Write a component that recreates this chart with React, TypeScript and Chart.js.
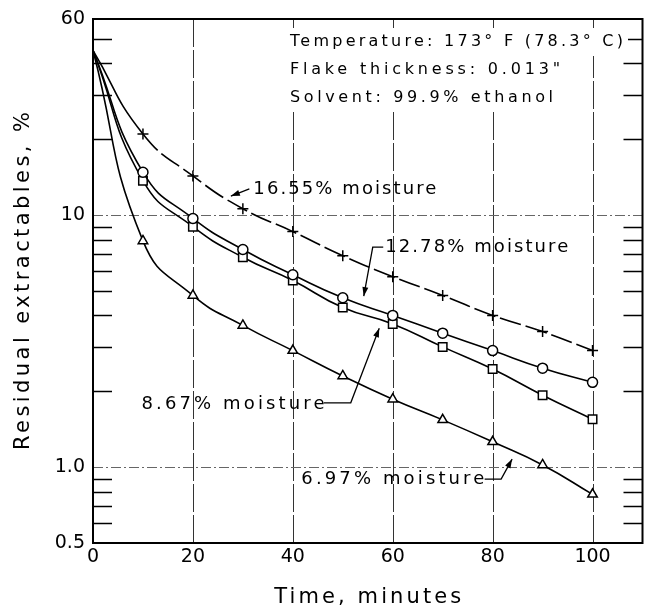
import React, { useEffect, useRef } from 'react';
import { Chart, registerables } from 'chart.js';

Chart.register(...registerables);

// ---- data ----
const times = [0, 10, 20, 30, 40, 50, 60, 70, 80, 90, 100];
const moisture1655 = [45, 21, 14.3, 10.6, 8.6, 6.9, 5.7, 4.8, 4.0, 3.45, 2.9];
const moisture1278 = [45, 14.8, 9.7, 7.3, 5.8, 4.7, 4.0, 3.4, 2.9, 2.47, 2.17];
const moisture867 = [45, 13.7, 9.0, 6.8, 5.5, 4.3, 3.7, 3.0, 2.45, 1.93, 1.55];
const moisture697 = [45, 7.9, 4.8, 3.65, 2.9, 2.3, 1.86, 1.54, 1.26, 1.02, 0.78];

const xTicks = [0, 20, 40, 60, 80, 100];
const yTicks = [0.5, 1, 10, 60];
const yTickLabels = ['0.5', '1.0', '10', '60'];
const yMinorTicks = [0.6, 0.7, 0.8, 0.9, 2, 3, 4, 5, 6, 7, 8, 9, 20, 30, 40, 50];
const xGridValues = [20, 40, 60, 80, 100];
const yGridValues = [1, 10];

const xTitle = 'Time, minutes';
const yTitle = 'Residual extractables, %';
const conditionLines = [
  'Temperature: 173° F (78.3° C)',
  'Flake thickness: 0.013"',
  'Solvent: 99.9% ethanol',
];

// moisture labels: text anchor (left, middle) and leader path in data coords
const labelTexts = ['16.55% moisture', '12.78% moisture', '8.67% moisture', '6.97% moisture'];
const labelAnchors = [[32.1, 12.7], [58.5, 7.46], [9.7, 1.78], [41.7, 0.896]];
const labelPaths = [
  [[31.3, 12.7], [27.6, 11.9]],
  [[58.1, 7.46], [56.0, 7.46], [54.2, 4.77]],
  [[46.2, 1.8], [51.6, 1.8], [57.3, 3.56]],
  [[78.4, 0.896], [81.7, 0.896], [83.9, 1.076]],
];

const FONT = '"DejaVu Sans", "Liberation Sans", sans-serif';

function drawSpaced(ctx: CanvasRenderingContext2D, text: string, x: number, y: number, width: number, size: number, align: 'left' | 'center') {
  let fs = size;
  ctx.font = `${fs}px ${FONT}`;
  (ctx as any).letterSpacing = '0px';
  let w0 = ctx.measureText(text).width;
  if (w0 > width) {
    fs = size * width / w0;
    ctx.font = `${fs}px ${FONT}`;
    w0 = ctx.measureText(text).width;
  }
  const s = Math.max(0, (width - w0) / Math.max(1, text.length - 1));
  (ctx as any).letterSpacing = `${s}px`;
  ctx.textAlign = 'left';
  ctx.textBaseline = 'middle';
  const sx = align === 'center' ? x - width / 2 : x;
  ctx.fillText(text, sx, y);
  (ctx as any).letterSpacing = '0px';
}

function arrowHead(ctx: CanvasRenderingContext2D, x0: number, y0: number, x1: number, y1: number) {
  const a = Math.atan2(y1 - y0, x1 - x0);
  const L = 9, W = 3;
  ctx.beginPath();
  ctx.moveTo(x1, y1);
  ctx.lineTo(x1 - L * Math.cos(a) + W * Math.sin(a), y1 - L * Math.sin(a) - W * Math.cos(a));
  ctx.lineTo(x1 - L * Math.cos(a) - W * Math.sin(a), y1 - L * Math.sin(a) + W * Math.cos(a));
  ctx.closePath();
  ctx.fill();
}

const decorPlugin = {
  id: 'decor',
  beforeDatasetsDraw(chart: any) {
    const { ctx, chartArea: a, scales } = chart;
    const xs = scales.x, ys = scales.y;
    ctx.save();
    ctx.strokeStyle = '#333';
    ctx.lineWidth = 1;
    ctx.setLineDash([28, 3]);
    xGridValues.forEach((v) => {
      const px = Math.round(xs.getPixelForValue(v)) + 0.5;
      ctx.beginPath();
      ctx.moveTo(px, a.top);
      ctx.lineTo(px, a.bottom);
      ctx.stroke();
    });
    ctx.strokeStyle = '#666';
    ctx.setLineDash([10, 3, 2, 3]);
    yGridValues.forEach((v) => {
      const py = Math.round(ys.getPixelForValue(v)) + 0.5;
      ctx.beginPath();
      ctx.moveTo(a.left, py);
      ctx.lineTo(a.right, py);
      ctx.stroke();
    });
    ctx.setLineDash([]);
    ctx.strokeStyle = '#000';
    ctx.lineWidth = 1.4;
    yMinorTicks.forEach((v) => {
      const py = Math.round(ys.getPixelForValue(v)) + 0.5;
      ctx.beginPath();
      ctx.moveTo(a.left, py);
      ctx.lineTo(a.left + 19, py);
      ctx.moveTo(a.right - 19, py);
      ctx.lineTo(a.right, py);
      ctx.stroke();
    });
    const cx = a.left + 197;
    const widths = [333, 270, 263];
    const rows = [a.top + 23, a.top + 51, a.top + 79];
    ctx.fillStyle = '#fff';
    conditionLines.forEach((t, i) => {
      ctx.fillRect(cx - 5, rows[i] - 14, widths[i] + 10, 28);
    });
    ctx.fillStyle = '#000';
    conditionLines.forEach((t, i) => {
      drawSpaced(ctx, t, cx, rows[i], widths[i], 16, 'left');
    });
    ctx.restore();
  },
  afterDatasetsDraw(chart: any) {
    const { ctx, chartArea: a, scales } = chart;
    const xs = scales.x, ys = scales.y;
    ctx.save();
    ctx.strokeStyle = '#000';
    ctx.lineWidth = 2;
    ctx.strokeRect(a.left, a.top, a.right - a.left, a.bottom - a.top);
    ctx.fillStyle = '#000';
    ctx.lineWidth = 1.3;
    labelTexts.forEach((t, i) => {
      const [lx, ly] = labelAnchors[i];
      drawSpaced(ctx, t, xs.getPixelForValue(lx), ys.getPixelForValue(ly), 183, 18, 'left');
      const pts = labelPaths[i].map(([x, y]) => [xs.getPixelForValue(x), ys.getPixelForValue(y)]);
      ctx.beginPath();
      pts.forEach(([x, y], k) => (k === 0 ? ctx.moveTo(x, y) : ctx.lineTo(x, y)));
      ctx.stroke();
      const n = pts.length;
      arrowHead(ctx, pts[n - 2][0], pts[n - 2][1], pts[n - 1][0], pts[n - 1][1]);
    });
    drawSpaced(ctx, xTitle, (a.left + a.right) / 2, a.bottom + 55, 187, 21, 'center');
    ctx.translate(a.left - 69, (a.top + a.bottom) / 2);
    ctx.rotate(-Math.PI / 2);
    drawSpaced(ctx, yTitle, 0, 0, 338, 21, 'center');
    ctx.restore();
  },
};

function series(vals: number[], style: string, radius: number, dashed: boolean) {
  return {
    data: times.map((t, i) => ({ x: t, y: vals[i] })),
    borderColor: '#000',
    borderWidth: 1.6,
    backgroundColor: '#fff',
    pointStyle: style,
    pointRadius: (c: any) => (c.dataIndex === 0 ? 0 : radius),
    pointBorderColor: '#000',
    pointBackgroundColor: '#fff',
    pointBorderWidth: 1.5,
    tension: 0.5,
    fill: false,
    segment: dashed ? { borderDash: (c: any) => (c.p0DataIndex >= 1 ? [22, 5] : undefined) } : undefined,
  };
}

export default function App() {
  const ref = useRef<HTMLCanvasElement>(null);
  useEffect(() => {
    document.body.style.margin = '0';
    const tickFont = { family: FONT, size: 19 };
    const chart = new Chart(ref.current as HTMLCanvasElement, {
      type: 'line',
      data: {
        datasets: [
          series(moisture1655, 'cross', 5.5, true),
          series(moisture1278, 'circle', 5, false),
          series(moisture867, 'rect', 6, false),
          series(moisture697, 'triangle', 5.5, false),
        ] as any,
      },
      options: {
        animation: false,
        responsive: false,
        maintainAspectRatio: false,
        layout: { padding: { top: 19, right: 1, left: 0, bottom: 0 } },
        plugins: { legend: { display: false }, tooltip: { enabled: false } },
        scales: {
          x: {
            type: 'linear',
            min: 0,
            max: 110,
            afterBuildTicks: (s: any) => { s.ticks = xTicks.map((v) => ({ value: v })); },
            afterFit: (s: any) => { s.height = 69; s.paddingLeft = 0; s.paddingRight = 0; },
            grid: { display: false, drawTicks: false },
            border: { display: false },
            ticks: { font: tickFont, color: '#000', padding: 3, maxRotation: 0, autoSkip: false, callback: (v: any) => String(v) },
          },
          y: {
            type: 'logarithmic',
            min: 0.5,
            max: 60,
            afterBuildTicks: (s: any) => { s.ticks = yTicks.map((v) => ({ value: v })); },
            afterFit: (s: any) => { s.width = 93; s.paddingTop = 0; s.paddingBottom = 0; },
            grid: { display: false, drawTicks: false },
            border: { display: false },
            ticks: {
              font: tickFont, color: '#000', padding: 8, autoSkip: false,
              callback: (v: any) => { const i = yTicks.indexOf(Number(v)); return i >= 0 ? yTickLabels[i] : ''; },
            },
          },
        } as any,
      },
      plugins: [decorPlugin],
    });
    return () => chart.destroy();
  }, []);
  return (
    <div style={{ width: 650, height: 612, background: '#fff' }}>
      <canvas ref={ref} width={650} height={612} style={{ display: 'block' }} />
    </div>
  );
}
